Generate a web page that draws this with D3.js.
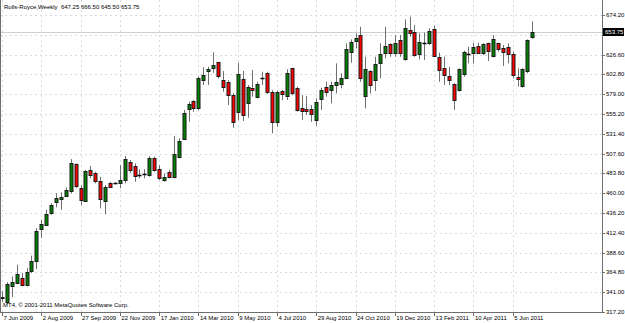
<!DOCTYPE html>
<html>
<head>
<meta charset="utf-8">
<script src="https://cdn.jsdelivr.net/npm/d3@7"></script>
<style>
  html, body { margin: 0; padding: 0; background: #ffffff; }
  svg { display: block; }
  text { font-family: "Liberation Sans", Arial, sans-serif; }
</style>
</head>
<body>
<svg id="chart" width="625" height="323"></svg>
<script>
// ---------------- DATA ----------------
const symbolTitle = "Rolls-Royce,Weekly";
const firstWeek = "7 Jun 2009";
const copyrightText = "MT4, \u00A9 2001-2011 MetaQuotes Software Corp.";

const opens = [
  335, 329, 348, 352, 358, 349, 366, 379, 417, 422,
  436, 449, 453, 457, 462, 495, 466, 450.6, 488, 484.6,
  475, 450.6, 472.6, 471.9, 472.3, 475, 497.9, 492.7, 481, 482.8,
  481.9, 501.9, 488.7, 476.7, 485.8, 479.8, 503.9, 524.8, 561.5, 570.8,
  561.5, 596, 606, 610.1, 617.3, 596, 594, 578, 557.6, 596.9,
  568.8, 586.8, 574.8, 597.5, 604.1, 582, 545.9, 582.8, 576.8, 610.1,
  586.1, 562, 561.2, 560.8, 548, 572.9, 588, 584, 590, 592.1,
  598.8, 630.1, 642.1, 650.1, 576.8, 607.2, 596, 616.1, 628.1, 639.3,
  628.1, 644.1, 621.3, 656.1, 654.1, 627.3, 640.2, 641.4, 657.3, 624,
  610.1, 601.2, 591.2, 583.2, 604.1, 626.9, 628.1, 637.3, 628.1, 640.2,
  625.3, 640.2, 634.1, 636.1, 626.9, 600, 588.8, 607.2, 647.25
];
const highs = [
  342, 353, 360, 374, 364, 370, 385, 418, 428, 440,
  448, 460, 461, 467, 501, 496, 469.8, 487.9, 492.7, 485.8,
  479.8, 469.8, 473.8, 473, 493.9, 504.7, 499.9, 495.9, 488.7, 488.7,
  504.7, 503.9, 493.9, 483.9, 487.9, 528.7, 525.9, 560, 570, 572,
  600, 611.3, 612, 629.3, 618, 606.9, 596, 580.1, 616.8, 606.9,
  590, 608.1, 594, 606, 606, 584, 583.2, 584, 608.9, 610.8,
  588, 578, 576.8, 566, 574.1, 586.8, 594, 594, 616.1, 604.1,
  640.2, 644.9, 652.2, 660.1, 624, 608.1, 624, 640.2, 660.1, 640.2,
  650.1, 650.1, 669, 672.1, 662.2, 652.2, 652.9, 658.2, 661.3, 628.9,
  624, 612, 592.1, 610.1, 631.3, 636.1, 640.9, 640.9, 640.2, 640.9,
  650.1, 640.9, 638.1, 640.2, 630.1, 610.1, 610.1, 644.9, 666.5
];
const lows = [
  329, 327, 335, 352, 348, 348, 364, 369, 406, 421,
  434, 443, 440, 456, 460, 466, 445.8, 449.8, 477.9, 471.9,
  441.8, 434.6, 467.1, 470.5, 465.9, 471.9, 484.6, 473.8, 477.9, 477.9,
  479.8, 485.8, 475.9, 473.8, 477.9, 477.9, 501.9, 523.9, 545.9, 557.9,
  560, 590, 590, 604.8, 598.1, 582, 566, 538.7, 548, 546.8,
  550.7, 576, 574.1, 590, 579.2, 532, 539.9, 572, 572, 578,
  557.9, 548, 554, 545.9, 541.1, 560, 576, 568, 580.1, 586.1,
  598.1, 616.8, 634.1, 594, 562, 580.1, 582.8, 598.1, 622.1, 624,
  624, 624, 619.2, 648.1, 624, 620.9, 620.1, 638.1, 624, 594,
  590, 590, 560, 582, 600, 616.1, 616.1, 628.1, 626.1, 618.9,
  623.3, 630.1, 612.9, 616.1, 598.1, 588, 586.8, 604.1, 645.5
];
const closes = [
  334, 351, 353, 363, 349, 365, 378, 415, 423, 435,
  446, 454, 456, 464, 496, 468, 451.8, 487, 481.9, 475,
  453.9, 467.8, 467.8, 472.3, 475.9, 500.7, 488.7, 481, 481.5, 483.3,
  501.9, 487.9, 477.9, 479.8, 479.8, 507.1, 523.1, 556, 567.2, 562.8,
  598.1, 602.1, 608.9, 614.1, 600, 588, 578, 545.9, 603.3, 554,
  588, 584, 590.9, 598.1, 580.8, 545.9, 582, 578.9, 604.8, 580.1,
  559.2, 557.9, 558.8, 555.2, 570, 584, 582, 590, 594, 598.8,
  633.3, 642.1, 646.2, 598.1, 609.3, 590, 615.3, 627.3, 636.9, 628.1,
  640.2, 628.1, 658.2, 652.2, 626.9, 641.4, 640.6, 655.3, 625.3, 608.9,
  602.1, 596, 572, 608.9, 630.1, 627.5, 635.3, 629.3, 638.9, 630.1,
  645.3, 633.3, 628.9, 628.1, 602.1, 598.1, 608.9, 644.1, 653.75
];

const priceTicks = [317.20, 341.00, 364.80, 388.60, 412.40, 436.20, 460.00, 483.80,
                    507.60, 531.40, 555.20, 579.00, 602.80, 626.60, 650.40, 674.20];
const dateTickLabels = ["7 Jun 2009", "2 Aug 2009", "27 Sep 2009", "22 Nov 2009",
  "17 Jan 2010", "14 Mar 2010", "9 May 2010", "4 Jul 2010", "29 Aug 2010",
  "24 Oct 2010", "19 Dec 2010", "13 Feb 2011", "10 Apr 2011", "5 Jun 2011"];

// ---------------- BUILD ----------------
const parseDate = d3.timeParse("%e %b %Y");
const start = parseDate(firstWeek);
const bars = opens.map((o, i) => ({
  date: d3.timeWeek.offset(start, i),
  open: o, high: highs[i], low: lows[i], close: closes[i]
}));
const lastBar = bars[bars.length - 1];

const plotRight = 602, plotBottom = 312;

const x = d3.scaleTime()
  .domain([bars[0].date, lastBar.date])
  .range([2, 532.3]);
const y = d3.scaleLinear()
  .domain([317.2, 674.2])
  .range([312, 15]);

const svg = d3.select("#chart");
const fs = 6.0;

// grid
const grid = svg.append("g");
grid.selectAll("line.h").data(priceTicks).enter().append("line")
  .attr("x1", 0).attr("x2", plotRight)
  .attr("y1", d => Math.round(y(d)) + 0.5).attr("y2", d => Math.round(y(d)) + 0.5)
  .attr("stroke", "#d6dae3").attr("stroke-width", 1).attr("stroke-dasharray", "2,3");
const dateTicks = dateTickLabels.map(s => ({ label: s, date: parseDate(s) }));
grid.selectAll("line.v").data(dateTicks).enter().append("line")
  .attr("x1", d => Math.round(x(d.date)) + 0.5).attr("x2", d => Math.round(x(d.date)) + 0.5)
  .attr("y1", 0).attr("y2", plotBottom)
  .attr("stroke", "#d6dae3").attr("stroke-width", 1).attr("stroke-dasharray", "2,3");

// bid line (last close)
svg.append("line")
  .attr("x1", 0).attr("x2", plotRight)
  .attr("y1", Math.round(y(lastBar.close)) + 0.5).attr("y2", Math.round(y(lastBar.close)) + 0.5)
  .attr("stroke", "#cfcfcf").attr("stroke-width", 1);

// candles
const cg = svg.append("g");
const cx = d => Math.round(x(d.date)) + 0.5;
cg.selectAll("line.wick").data(bars).enter().append("line")
  .attr("x1", cx).attr("x2", cx)
  .attr("y1", d => y(d.high)).attr("y2", d => y(d.low))
  .attr("stroke", "#707070").attr("stroke-width", 1);

const isDoji = d => Math.abs(d.close - d.open) < 1;
cg.selectAll("rect.body").data(bars.filter(d => !isDoji(d))).enter().append("rect")
  .attr("x", d => cx(d) - 1.5)
  .attr("width", 3)
  .attr("y", d => Math.round(y(Math.max(d.open, d.close))) + 0.5)
  .attr("height", d => Math.max(1, Math.round(Math.abs(y(d.open) - y(d.close)))))
  .attr("fill", d => d.close >= d.open ? "#008000" : "#ff0000")
  .attr("stroke", "#1a1a1a").attr("stroke-width", 1);
cg.selectAll("line.doji").data(bars.filter(isDoji)).enter().append("line")
  .attr("x1", d => cx(d) - 2).attr("x2", d => cx(d) + 2)
  .attr("y1", d => Math.round(y(d.close)) + 0.5).attr("y2", d => Math.round(y(d.close)) + 0.5)
  .attr("stroke", "#000").attr("stroke-width", 1.5);

// frame
svg.append("line").attr("x1", 0.5).attr("x2", 0.5).attr("y1", 0).attr("y2", plotBottom + 0.5)
  .attr("stroke", "#6e6e6e");
svg.append("line").attr("x1", plotRight + 0.5).attr("x2", plotRight + 0.5).attr("y1", 0).attr("y2", plotBottom + 0.5)
  .attr("stroke", "#6e6e6e");
svg.append("line").attr("x1", 0).attr("x2", plotRight + 1).attr("y1", plotBottom + 0.5).attr("y2", plotBottom + 0.5)
  .attr("stroke", "#6e6e6e");

// price axis
const lastY = y(lastBar.close);
const pa = svg.append("g");
pa.selectAll("line").data(priceTicks).enter().append("line")
  .attr("x1", plotRight).attr("x2", plotRight + 3)
  .attr("y1", d => Math.round(y(d)) + 0.5).attr("y2", d => Math.round(y(d)) + 0.5)
  .attr("stroke", "#6e6e6e");
pa.selectAll("text").data(priceTicks.filter(d => Math.abs(y(d) - lastY) > 7)).enter().append("text")
  .attr("x", plotRight + 4).attr("y", d => y(d) + 0.5)
  .attr("dominant-baseline", "middle")
  .attr("font-size", fs).attr("fill", "#000")
  .text(d => d.toFixed(2));
// last price box
pa.append("rect").attr("x", plotRight + 1).attr("y", lastY - 4).attr("width", 21).attr("height", 8)
  .attr("fill", "#000");
pa.append("text").attr("x", plotRight + 3).attr("y", lastY + 0.5)
  .attr("dominant-baseline", "middle").attr("font-size", fs).attr("fill", "#fff")
  .text(lastBar.close.toFixed(2));

// date axis
const da = svg.append("g");
da.selectAll("line").data(dateTicks).enter().append("line")
  .attr("x1", d => Math.round(x(d.date)) + 0.5).attr("x2", d => Math.round(x(d.date)) + 0.5)
  .attr("y1", plotBottom).attr("y2", plotBottom + 4)
  .attr("stroke", "#6e6e6e");
da.selectAll("text").data(dateTicks).enter().append("text")
  .attr("x", d => x(d.date) + 1.5).attr("y", 318.5)
  .attr("dominant-baseline", "middle")
  .attr("font-size", fs).attr("fill", "#000")
  .text(d => d.label);

// title and copyright
const f2 = v => v.toFixed(2);
svg.append("text").attr("x", 4).attr("y", 7)
  .attr("dominant-baseline", "middle").attr("font-size", fs).attr("fill", "#000")
  .attr("xml:space", "preserve")
  .text(symbolTitle + "  " + [lastBar.open, lastBar.high, lastBar.low, lastBar.close].map(f2).join(" "));
svg.append("text").attr("x", 3).attr("y", 305.5)
  .attr("dominant-baseline", "middle").attr("font-size", fs).attr("fill", "#000")
  .text(copyrightText);
</script>
</body>
</html>
